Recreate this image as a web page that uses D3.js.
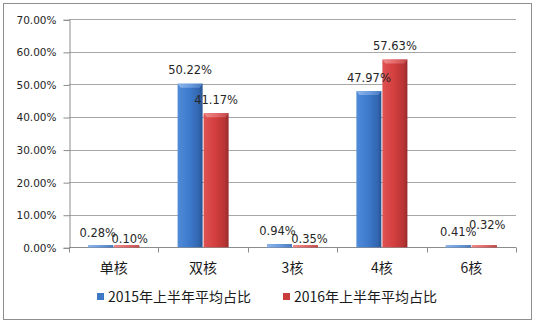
<!DOCTYPE html>
<html>
<head>
<meta charset="utf-8">
<script src="https://cdn.jsdelivr.net/npm/d3@7"></script>
<style>
  html, body { margin: 0; padding: 0; background: #fff; }
  svg { display: block; }
</style>
</head>
<body>
<svg id="chart" width="536" height="324"></svg>
<script>
// CPU core-count share, first half of 2015 vs first half of 2016
const categories = ["单核", "双核", "3核", "4核", "6核"];
const seriesNames = ["2015年上半年平均占比", "2016年上半年平均占比"];
const share2015 = [0.28, 50.22, 0.94, 47.97, 0.41];
const share2016 = [0.10, 41.17, 0.35, 57.63, 0.32];
const yTicks = [0, 10, 20, 30, 40, 50, 60, 70];

// label nudges (px) for the crowded small-value labels: [dx, dy] per series per category
const labelNudge = [
  [[-3, 0], [0, 0], [-2, 0], [0, 0], [0, 0]],
  [[3, 6], [0, 0], [4, 6], [0, 0], [3, -8]]
];

const svg = d3.select("#chart");
const plot = { left: 69, right: 516, top: 19.3, bottom: 247.3 };

const defs = svg.append("defs");
function barGradient(id, stops) {
  const g = defs.append("linearGradient").attr("id", id)
    .attr("x1", "0%").attr("x2", "100%").attr("y1", "0%").attr("y2", "0%");
  stops.forEach(([o, c]) => g.append("stop").attr("offset", o).attr("stop-color", c));
}
barGradient("g2015", [["0%", "#4f8bd8"], ["45%", "#3e7bcd"], ["85%", "#3266b0"], ["100%", "#28528f"]]);
barGradient("g2016", [["0%", "#df5252"], ["45%", "#d43f3f"], ["85%", "#b73434"], ["100%", "#962a2a"]]);
barGradient("c2015", [["0%", "#8db5ea"], ["50%", "#6b9de0"], ["100%", "#4a7bc0"]]);
barGradient("c2016", [["0%", "#ee8c8c"], ["50%", "#e46a6a"], ["100%", "#c04a4a"]]);
const fills = ["url(#g2015)", "url(#g2016)"];
const capFills = ["url(#c2015)", "url(#c2016)"];
const legendFills = ["#3f79c6", "#c83c3c"];

// outer frame
svg.append("rect")
  .attr("x", 3.5).attr("y", 3.5).attr("width", 528).attr("height", 316)
  .attr("fill", "#fff").attr("stroke", "#8e8e8e").attr("stroke-width", 1);

const y = d3.scaleLinear().domain([0, 70]).range([plot.bottom, plot.top]);
const x0 = d3.scaleBand().domain(categories).range([plot.left, plot.right]).padding(0);
const groupW = 52;
const x1 = d3.scaleBand().domain([0, 1]).range([0, groupW]).padding(0);
const groupOffset = (x0.bandwidth() - groupW) / 2;

// horizontal gridlines
svg.append("g").selectAll("line").data(yTicks).join("line")
  .attr("x1", plot.left).attr("x2", plot.right)
  .attr("y1", d => Math.round(y(d)) + 0.5).attr("y2", d => Math.round(y(d)) + 0.5)
  .attr("stroke", "#a6a6a6").attr("stroke-width", 1);

// y axis
const yAxis = d3.axisLeft(y).tickValues(yTicks).tickSize(6).tickPadding(7)
  .tickFormat(d => d.toFixed(2) + "%");
const gy = svg.append("g").attr("transform", `translate(${plot.left + 0.5},0.5)`).call(yAxis);
gy.select(".domain").attr("stroke", "#8c8c8c");
gy.selectAll(".tick line").attr("stroke", "#8c8c8c");
gy.selectAll(".tick text")
  .attr("font-family", "'DejaVu Sans', Verdana, sans-serif")
  .attr("font-size", 10.5).attr("fill", "#262626");

// x axis with ticks at category boundaries
const gx = svg.append("g").attr("transform", `translate(0,${Math.round(plot.bottom) + 0.5})`);
gx.append("line").attr("x1", plot.left).attr("x2", plot.right)
  .attr("stroke", "#8c8c8c");
const boundaries = categories.map(c => x0(c)).concat([plot.right]);
gx.selectAll("line.tk").data(boundaries).join("line").attr("class", "tk")
  .attr("x1", d => Math.round(d) + 0.5).attr("x2", d => Math.round(d) + 0.5)
  .attr("y1", 0).attr("y2", 5).attr("stroke", "#8c8c8c");
gx.selectAll("text").data(categories).join("text")
  .attr("x", d => x0(d) + x0.bandwidth() / 2)
  .attr("y", 25)
  .attr("text-anchor", "middle")
  .attr("font-family", "'Noto Sans CJK SC', sans-serif")
  .attr("font-size", 14).attr("fill", "#1a1a1a")
  .text(d => d);

// bars
const series = [share2015, share2016];
const barData = [];
series.forEach((vals, s) => vals.forEach((v, i) => barData.push({ s, i, v, cat: categories[i] })));

const bx = d => x0(d.cat) + groupOffset + x1(d.s);
const bw = x1.bandwidth();

const bars = svg.append("g");
bars.selectAll("rect.bar").data(barData).join("rect").attr("class", "bar")
  .attr("x", d => bx(d) + 0.5)
  .attr("width", bw - 1)
  .attr("y", d => Math.min(y(d.v), plot.bottom - 2))
  .attr("height", d => Math.max(plot.bottom - y(d.v), 2))
  .attr("fill", d => fills[d.s]);
// bevelled top cap
bars.selectAll("path.cap").data(barData).join("path").attr("class", "cap")
  .attr("d", d => {
    const x = bx(d) + 0.5, w = bw - 1;
    const top = Math.min(y(d.v), plot.bottom - 2);
    const h = Math.min(4, Math.max(plot.bottom - top, 2));
    const inset = h >= 4 ? 3 : 0;
    return `M${x},${top}L${x + w},${top}L${x + w - inset},${top + h}L${x + inset},${top + h}Z`;
  })
  .attr("fill", d => capFills[d.s]);

// value labels
svg.append("g").selectAll("text").data(barData).join("text")
  .attr("x", d => bx(d) + bw / 2 + labelNudge[d.s][d.i][0])
  .attr("y", d => y(d.v) - 9.5 + labelNudge[d.s][d.i][1])
  .attr("text-anchor", "middle")
  .attr("font-family", "'DejaVu Sans', Verdana, sans-serif")
  .attr("font-size", 11.5).attr("fill", "#262626")
  .text(d => d.v.toFixed(2) + "%");

// legend
const legendX = [97, 283];
const lg = svg.append("g").selectAll("g").data(seriesNames).join("g")
  .attr("transform", (d, i) => `translate(${legendX[i]},293)`);
lg.append("rect").attr("width", 7).attr("height", 7)
  .attr("fill", (d, i) => legendFills[i]);
lg.append("text").attr("x", 11).attr("y", 8.5)
  .attr("font-family", "'Noto Sans CJK SC', sans-serif")
  .attr("font-size", 14).attr("fill", "#1a1a1a")
  .text(d => d);
</script>
</body>
</html>
